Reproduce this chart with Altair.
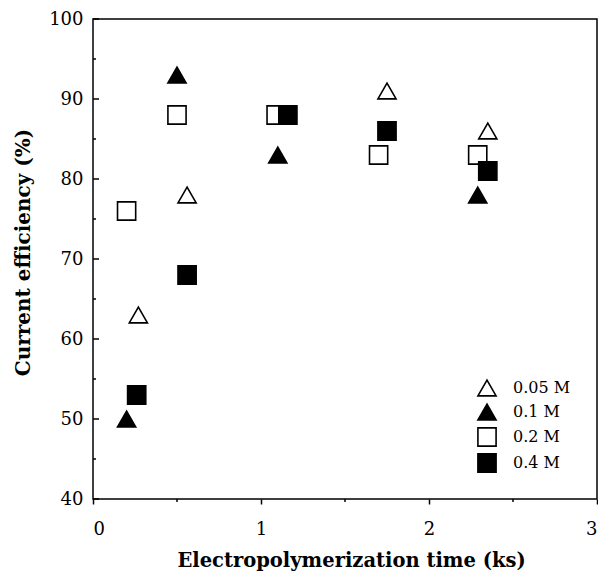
import altair as alt
import pandas as pd

series_names = ["0.05 M", "0.1 M", "0.2 M", "0.4 M"]
time_005 = [0.27, 0.56, 1.75, 2.35]
eff_005 = [63, 78, 91, 86]
time_01 = [0.20, 0.50, 1.10, 2.29]
eff_01 = [50, 93, 83, 78]
time_02 = [0.20, 0.50, 1.09, 1.70, 2.29]
eff_02 = [76, 88, 88, 83, 83]
time_04 = [0.26, 0.56, 1.16, 1.75, 2.35]
eff_04 = [53, 68, 88, 86, 81]

x_ticks = [0, 1, 2, 3]
x_minor = [0.5, 1.5, 2.5]
y_major = [40, 50, 60, 70, 80, 90, 100]
y_minor = [45, 55, 65, 75, 85, 95]

rows = []
for name, xs, ys in zip(series_names,
                        [time_005, time_01, time_02, time_04],
                        [eff_005, eff_01, eff_02, eff_04]):
    for xv, yv in zip(xs, ys):
        rows.append({"t": xv, "eff": yv, "conc": name})
df = pd.DataFrame(rows)

FONT = "DejaVu Serif"
W, H = 504, 480

xscale = alt.Scale(domain=[0, 3], nice=False, zero=False)
yscale = alt.Scale(domain=[40, 100], nice=False, zero=False)


def leg():
    return alt.Legend(title=None, orient="none", legendX=384, legendY=359,
                      labelFont=FONT, labelFontSize=16, labelColor="black",
                      symbolStrokeWidth=1.6, rowPadding=0, labelOffset=16, padding=0)


points = alt.Chart(df).mark_point(
    filled=True, strokeWidth=1.6, opacity=1
).encode(
    x=alt.X("t:Q", scale=xscale, axis=alt.Axis(
        values=x_ticks, format="d", title="Electropolymerization time (ks)", domain=False,
        grid=False, tickSize=5, tickWidth=1.5, tickColor="black",
        labelFont=FONT, labelFontSize=18, labelColor="black", labelPadding=16,
        titleFont=FONT, titleFontSize=19.5, titleFontWeight="bold", titleColor="black",
        titleBaseline="alphabetic", titleY=67, titleX=258, titleAlign="center")),
    y=alt.Y("eff:Q", scale=yscale, axis=alt.Axis(
        values=y_major, title="Current efficiency (%)", domain=False,
        grid=False, ticks=False, labelFont=FONT, labelFontSize=18,
        labelColor="black", labelPadding=10,
        titleFont=FONT, titleFontSize=20, titleFontWeight="bold", titleColor="black",
        titleX=-70, titleY=233, titleAlign="center", titleBaseline="middle", titleAngle=270)),
    shape=alt.Shape("conc:N", scale=alt.Scale(
        domain=series_names, range=["triangle-up", "triangle-up", "square", "square"]),
        legend=leg()),
    fill=alt.Fill("conc:N", scale=alt.Scale(
        domain=series_names, range=["white", "black", "white", "black"]),
        legend=leg()),
    stroke=alt.Stroke("conc:N", scale=alt.Scale(
        domain=series_names, range=["black", "black", "black", "black"]),
        legend=leg()),
    size=alt.Size("conc:N", scale=alt.Scale(
        domain=series_names, range=[330, 330, 270, 270]),
        legend=leg()),
)

ymaj = alt.Chart(pd.DataFrame({"eff": y_major})).mark_rule(color="black", strokeWidth=1.5).encode(
    y=alt.Y("eff:Q", scale=yscale), x=alt.value(0), x2=alt.value(6))
ymin = alt.Chart(pd.DataFrame({"eff": y_minor})).mark_rule(color="black", strokeWidth=1.5).encode(
    y=alt.Y("eff:Q", scale=yscale), x=alt.value(0), x2=alt.value(3))
xmin = alt.Chart(pd.DataFrame({"t": x_minor})).mark_rule(color="black", strokeWidth=1.5).encode(
    x=alt.X("t:Q", scale=xscale), y=alt.value(H), y2=alt.value(H + 3))

chart = alt.layer(points, ymaj, ymin, xmin).properties(
    width=W, height=H,
    autosize=alt.AutoSizeParams(type="none"),
    padding={"left": 85, "top": 11, "right": 1, "bottom": 72},
).configure_view(stroke="black", strokeWidth=1.5)

chart.save("out.html", embed_options={"renderer": "svg", "actions": False})
